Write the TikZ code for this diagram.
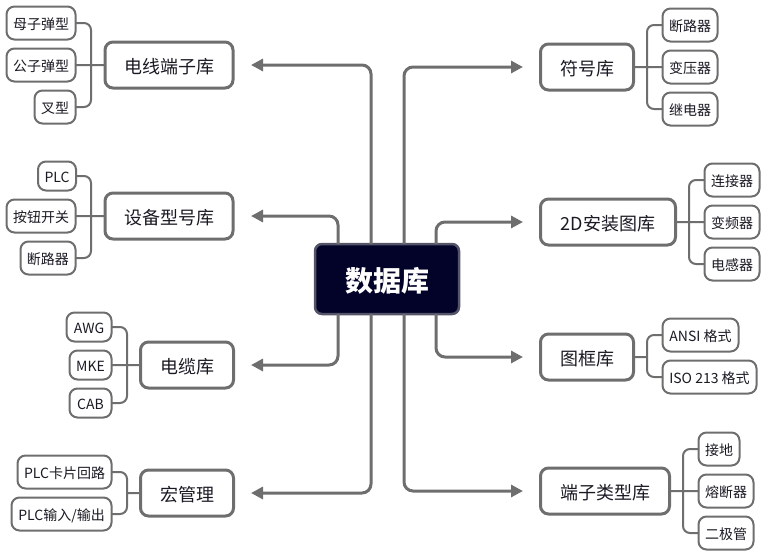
\documentclass[tikz,border=0pt]{standalone}
\usepackage{fontspec}
\setmainfont{Noto Sans CJK SC}
\usetikzlibrary{arrows.meta}
\definecolor{linegray}{HTML}{6E6E6E}
\definecolor{rootfill}{HTML}{03032A}
\definecolor{rootline}{HTML}{55556A}
\definecolor{inktext}{HTML}{1A1A24}
\tikzset{
    root/.style={draw=rootline, line width=2.5pt, fill=rootfill, text=white, rounded corners=7pt,
        inner sep=0pt, outer sep=0pt, text height=25pt, text depth=0pt, font=\fontsize{28}{28}\selectfont\bfseries},
    lib/.style={draw=linegray, line width=3pt, fill=white, text=inktext, rounded corners=8pt,
        inner sep=0pt, outer sep=0pt, minimum height=46pt, text height=16pt, text depth=0pt, font=\fontsize{18}{18}\selectfont},
    leaf/.style={draw=linegray, line width=2pt, fill=white, text=inktext, rounded corners=8pt,
        inner sep=0pt, outer sep=0pt, minimum height=33pt, text height=12pt, text depth=0pt, font=\fontsize{14}{14}\selectfont},
    branch/.style={draw=linegray, line width=2pt, rounded corners=7pt},
    trunk/.style={draw=linegray, line width=3pt, rounded corners=9pt, -{Triangle[length=12pt,width=12pt]}}
}
\begin{document}
\begin{tikzpicture}[x=1pt,y=-1pt]
    \useasboundingbox (0,0) rectangle (766,555);

    % centre
    \node[root, minimum width=144pt, minimum height=70pt] (db) at (387,279) {数据库};

    % left side
    \node[lib, minimum width=128pt] (wire) at (169,65) {电线端子库};
    \node[leaf, minimum width=69pt] (w1) at (41,23) {母子弹型};
    \node[leaf, minimum width=69pt] (w2) at (41,65) {公子弹型};
    \node[leaf, minimum width=41pt] (w3) at (55,107) {叉型};

    \node[lib, minimum width=128pt] (dev) at (169,216) {设备型号库};
    \node[leaf, minimum width=38pt, minimum height=29pt] (d1) at (57,176) {PLC};
    \node[leaf, minimum width=69pt] (d2) at (41,216) {按钮开关};
    \node[leaf, minimum width=55pt] (d3) at (48,258) {断路器};

    \node[lib, minimum width=93pt] (cable) at (187,365) {电缆库};
    \node[leaf, minimum width=45pt, minimum height=29pt] (c1) at (89,327) {AWG};
    \node[leaf, minimum width=42pt, minimum height=29pt] (c2) at (90.5,365) {MKE};
    \node[leaf, minimum width=42pt, minimum height=29pt] (c3) at (90.5,403) {CAB};

    \node[lib, minimum width=93pt] (macro) at (187,493) {宏管理};
    \node[leaf, minimum width=94pt] (m1) at (64.5,472) {PLC卡片回路};
    \node[leaf, minimum width=100pt] (m2) at (61.5,514) {PLC输入/输出};

    % right side
    \node[lib, minimum width=93pt] (sym) at (587,67) {符号库};
    \node[leaf, minimum width=55pt] (s1) at (690,25) {断路器};
    \node[leaf, minimum width=55pt] (s2) at (690,67) {变压器};
    \node[leaf, minimum width=55pt] (s3) at (690,109) {继电器};

    \node[lib, minimum width=135pt] (inst) at (608,222) {2D安装图库};
    \node[leaf, minimum width=55pt] (i1) at (732,180) {连接器};
    \node[leaf, minimum width=55pt] (i2) at (732,222) {变频器};
    \node[leaf, minimum width=55pt] (i3) at (732,264) {电感器};

    \node[lib, minimum width=93pt] (frame) at (587,357) {图框库};
    \node[leaf, minimum width=76pt] (f1) at (700.5,335) {ANSI 格式};
    \node[leaf, minimum width=94pt] (f2) at (709.5,377) {ISO 213 格式};

    \node[lib, minimum width=129pt] (term) at (605,491) {端子类型库};
    \node[leaf, minimum width=41pt] (t1) at (719,449) {接地};
    \node[leaf, minimum width=55pt] (t2) at (726,491) {熔断器};
    \node[leaf, minimum width=55pt] (t3) at (726,533) {二极管};

    % free ends of the arrows
    \coordinate (wireend) at (251,65);
    \coordinate (devend) at (251,216);
    \coordinate (cableend) at (251,365);
    \coordinate (macroend) at (251,493);
    \coordinate (symend) at (523,67);
    \coordinate (instend) at (523,222);
    \coordinate (frameend) at (523,357);
    \coordinate (termend) at (523,491);

    % centre to libraries
    \draw[trunk] (db.north -| 371,0) |- (wireend);
    \draw[trunk] (db.north -| 338,0) |- (devend);
    \draw[trunk] (db.south -| 338,0) |- (cableend);
    \draw[trunk] (db.south -| 371,0) |- (macroend);
    \draw[trunk] (db.north -| 404,0) |- (symend);
    \draw[trunk] (db.north -| 436,0) |- (instend);
    \draw[trunk] (db.south -| 436,0) |- (frameend);
    \draw[trunk] (db.south -| 404,0) |- (termend);

    % libraries to leaves
    \draw[branch] (w1.east) -| (91,65) |- (w3.east) (w2.east) -- (wire.west);
    \draw[branch] (d1.east) -| (91,216) |- (d3.east) (d2.east) -- (dev.west);
    \draw[branch] (c1.east) -| (127,365) |- (c3.east) (c2.east) -- (cable.west);
    \draw[branch] (m1.east) -| (127,493) |- (m2.east) (127,493) -- (macro.west);
    \draw[branch] (s1.west) -| (647,67) |- (s3.west) (s2.west) -- (sym.east);
    \draw[branch] (i1.west) -| (689,222) |- (i3.west) (i2.west) -- (inst.east);
    \draw[branch] (f1.west) -| (647,357) |- (f2.west) (647,357) -- (frame.east);
    \draw[branch] (t1.west) -| (683,491) |- (t3.west) (t2.west) -- (term.east);
\end{tikzpicture}
\end{document}
